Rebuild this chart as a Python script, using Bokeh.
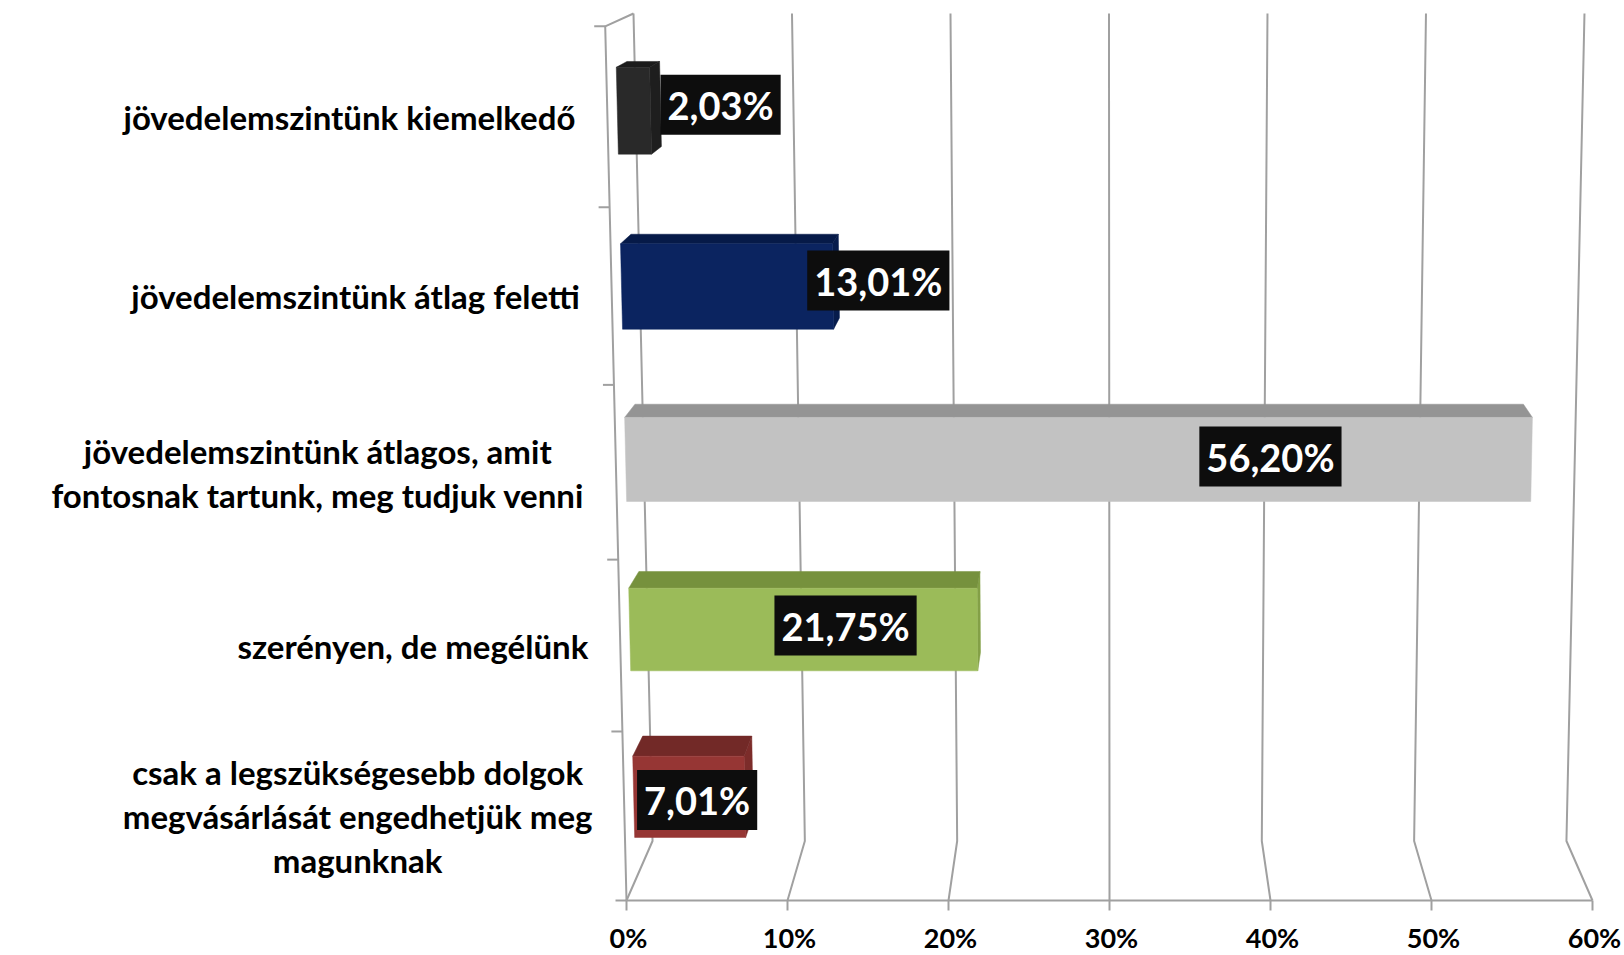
from bokeh.plotting import figure
from bokeh.models import Range1d, ColumnDataSource
from bokeh.core.properties import value
from bokeh.embed import file_html
from bokeh.resources import INLINE

# ---------------- data ----------------
categories = [
    "jövedelemszintünk kiemelkedő",
    "jövedelemszintünk átlag feletti",
    "jövedelemszintünk átlagos, amit\nfontosnak tartunk, meg tudjuk venni",
    "szerényen, de megélünk",
    "csak a legszükségesebb dolgok\nmegvásárlását engedhetjük meg\nmagunknak",
]
values = [2.03, 13.01, 56.20, 21.75, 7.01]
value_labels = ["2,03%", "13,01%", "56,20%", "21,75%", "7,01%"]
x_ticks = [0, 10, 20, 30, 40, 50, 60]
x_tick_labels = ["0%", "10%", "20%", "30%", "40%", "50%", "60%"]

# ---------------- style / layout ----------------
front_colors = ["#292929", "#0b2460", "#c2c2c2", "#9bbb59", "#963634"]
top_colors = ["#1b1b1b", "#061a48", "#949494", "#76913d", "#722927"]
side_colors = ["#1e1e1e", "#071c4c", "#a3a3a3", "#83a046", "#7c2c2a"]
label_anchor = [6.3, 15.8, 40.0, 13.5, 4.0]   # where each value box sits, in axis units
label_dy = [-6, -6, -3, -4, 3]                # small vertical nudges of the boxes, px
FONT = "Lato"
W, H = 1624, 955
X_MAX = 60
N = len(categories)
Z_FRONT, Z_BACK = 0.34, 0.72    # bar depth inside the 3D box
HALF = 0.245                    # half bar thickness in category units
GRID = "#a0a0a0"

# simple perspective camera: (value, category-height, depth) -> page pixels
A, B, C, D = 16.1, -9.24, 63.2, 626.0
F, G, Hc = -175.04, -11.6, 900.0
J, K = -0.00824, 0.057


def proj(X, Y, Z):
    w = 1.0 + J * Y + K * Z
    return (A * X + B * Y + C * Z + D) / w, (F * Y + G * Z + Hc) / w


p = figure(width=W, height=H, output_backend="svg", toolbar_location=None,
           x_range=Range1d(0, W), y_range=Range1d(H, 0),
           min_border=0, outline_line_color=None)
p.axis.visible = False
p.grid.visible = False
p.background_fill_color = "white"
p.border_fill_color = "white"

# ---------- walls / gridlines ----------
gx, gy = [], []
for t in x_ticks:
    a = proj(t, 0, 0); b = proj(t, 0, 1); c = proj(t, N, 1)
    gx.append([a[0], b[0], c[0]]); gy.append([a[1], b[1], c[1]])
# left wall front edge (category axis) and its top edge
a = proj(0, 0, 0); b = proj(0, N, 0); c = proj(0, N, 1)
gx.append([a[0], b[0], c[0]]); gy.append([a[1], b[1], c[1]])
# value axis (front bottom edge)
a = proj(0, 0, 0); b = proj(X_MAX, 0, 0)
gx.append([a[0], b[0]]); gy.append([a[1], b[1]])
# tick marks
for t in x_ticks:
    a = proj(t, 0, 0)
    gx.append([a[0], a[0]]); gy.append([a[1], a[1] + 10])
for k in range(N + 1):
    a = proj(0, k, 0)
    gx.append([a[0] - 11, a[0]]); gy.append([a[1], a[1]])
p.multi_line(gx, gy, line_color=GRID, line_width=2)

# ---------- 3D bars ----------
for i in range(N):
    v = values[i]
    yc = N - 0.5 - i
    y0, y1 = yc - HALF, yc + HALF
    fbl = proj(0, y0, Z_FRONT); fbr = proj(v, y0, Z_FRONT)
    ftl = proj(0, y1, Z_FRONT); ftr = proj(v, y1, Z_FRONT)
    btl = proj(0, y1, Z_BACK); btr = proj(v, y1, Z_BACK)
    bbr = proj(v, y0, Z_BACK)
    if btr[0] > ftr[0]:
        p.patch([ftr[0], btr[0], bbr[0], fbr[0]], [ftr[1], btr[1], bbr[1], fbr[1]],
                fill_color=side_colors[i], line_color=side_colors[i], line_width=0.5)
    p.patch([ftl[0], btl[0], btr[0], ftr[0]], [ftl[1], btl[1], btr[1], ftr[1]],
            fill_color=top_colors[i], line_color=top_colors[i], line_width=0.5)
    p.patch([fbl[0], ftl[0], ftr[0], fbr[0]], [fbl[1], ftl[1], ftr[1], fbr[1]],
            fill_color=front_colors[i], line_color=front_colors[i], line_width=0.5)

# ---------- value boxes ----------
lx, ly = [], []
for i in range(N):
    yc = N - 0.5 - i
    px, py = proj(label_anchor[i], yc, Z_FRONT)
    lx.append(px); ly.append(py + label_dy[i])
src = ColumnDataSource(dict(x=lx, y=ly, t=value_labels))
p.text(x="x", y="y", text="t", source=src, text_font=value(FONT),
       text_font_style="bold", text_font_size="38px", text_color="white",
       text_align="center", text_baseline="middle",
       background_fill_color="#0d0d0d", padding=7)

# ---------- category labels ----------
cx, cy = [], []
for i in range(N):
    yc = N - 0.5 - i
    px, py = proj(0, yc, 0)
    cx.append(px - 32); cy.append(py)
csrc = ColumnDataSource(dict(x=cx, y=cy, t=categories))
p.text(x="x", y="y", text="t", source=csrc, text_font=value(FONT),
       text_font_style="bold", text_font_size="33px", text_color="black",
       text_align="center", anchor=value("center_right"), text_baseline="middle",
       text_line_height=1.1)

# ---------- value tick labels ----------
tx, ty = [], []
for t in x_ticks:
    px, py = proj(t, 0, 0)
    tx.append(px + 2); ty.append(py + 37)
tsrc = ColumnDataSource(dict(x=tx, y=ty, t=x_tick_labels))
p.text(x="x", y="y", text="t", source=tsrc, text_font=value(FONT),
       text_font_style="bold", text_font_size="27px", text_color="black",
       text_align="center", text_baseline="middle")

open("out.html", "w").write(file_html(p, INLINE))
